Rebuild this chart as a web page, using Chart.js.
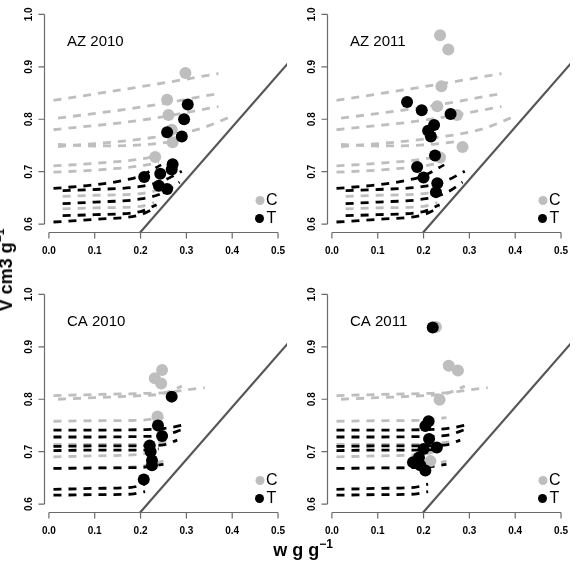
<!DOCTYPE html>
<html>
<head>
<meta charset="utf-8">
<script src="https://cdn.jsdelivr.net/npm/chart.js@4.4.0/dist/chart.umd.min.js"></script>
<style>
  body { margin: 0; background: #fff; width: 576px; height: 577px; position: relative; overflow: hidden;
         font-family: "Liberation Sans", Arial, sans-serif; }
  canvas { position: absolute; }
  .ttl { position: absolute; font-weight: bold; font-size: 18px; line-height: 20px; color: #000; white-space: nowrap; }
  .ttl .sup { position: relative; top: -8px; font-size: 12px; }
</style>
</head>
<body>
<canvas id="p1" width="293" height="262" style="left:0;top:0"></canvas>
<canvas id="p2" width="293" height="262" style="left:283px;top:0"></canvas>
<canvas id="p3" width="293" height="262" style="left:0;top:280px"></canvas>
<canvas id="p4" width="293" height="262" style="left:283px;top:280px"></canvas>
<div class="ttl" style="left:7px;top:270px;transform:translate(-50%,-50%) rotate(-90deg)">V cm3 g<span class="sup">&minus;1</span></div>
<div class="ttl" style="left:303px;top:540px;transform:translateX(-50%)">w g g<span class="sup">&minus;1</span></div>
<script>
const panelNames = ['AZ 2010', 'AZ 2011', 'CA 2010', 'CA 2011'];
const xTicks = [0, 0.1, 0.2, 0.3, 0.4, 0.5];
const xTickLabels = ['0.0', '0.1', '0.2', '0.3', '0.4', '0.5'];
const yTicks = [0.6, 0.7, 0.8, 0.9, 1.0];
const yTickLabels = ['0.6', '0.7', '0.8', '0.9', '1.0'];

// 1:1 reference line (w vs V)
const oneToOneX = [0.18, 0.56];
const oneToOneY = [0.565, 0.945];

// dashed model curves [w, V]
const azCurvesC = [
  [[0.01, 0.836], [0.2, 0.862], [0.37, 0.887]],
  [[0.02, 0.802], [0.2, 0.823], [0.37, 0.849]],
  [[0.01, 0.780], [0.2, 0.798], [0.37, 0.824]],
  [[0.02, 0.748], [0.2, 0.762], [0.33, 0.782], [0.40, 0.806]],
  [[0.02, 0.752], [0.1, 0.749], [0.2, 0.751], [0.27, 0.757]],
  [[0.01, 0.711], [0.1, 0.716], [0.2, 0.724], [0.24, 0.731]],
  [[0.01, 0.699], [0.1, 0.703], [0.2, 0.711], [0.24, 0.717]],
  [[0.03, 0.653], [0.1, 0.655], [0.2, 0.658], [0.24, 0.665]],
  [[0.03, 0.629], [0.1, 0.631], [0.2, 0.634], [0.23, 0.641]]
];
const azCurvesT = [
  [[0.01, 0.668], [0.1, 0.675], [0.16, 0.683], [0.2, 0.692], [0.245, 0.713]],
  [[0.03, 0.664], [0.1, 0.666], [0.2, 0.672], [0.25, 0.683], [0.29, 0.701]],
  [[0.03, 0.639], [0.1, 0.642], [0.2, 0.648], [0.25, 0.660], [0.285, 0.680]],
  [[0.03, 0.616], [0.1, 0.618], [0.2, 0.624], [0.235, 0.637]],
  [[0.01, 0.604], [0.1, 0.609], [0.2, 0.618], [0.235, 0.632]]
];
const caCurvesC = [
  [[0.01, 0.807], [0.1, 0.809], [0.2, 0.811], [0.26, 0.813], [0.3, 0.818], [0.34, 0.822]],
  [[0.02, 0.800], [0.1, 0.803], [0.2, 0.807], [0.25, 0.811], [0.29, 0.825]],
  [[0.01, 0.758], [0.1, 0.759], [0.2, 0.760], [0.25, 0.765]],
  [[0.01, 0.714], [0.1, 0.714], [0.2, 0.714], [0.27, 0.720]],
  [[0.01, 0.690], [0.1, 0.692], [0.2, 0.695], [0.24, 0.705]],
  [[0.01, 0.668], [0.1, 0.669], [0.2, 0.672], [0.25, 0.682]]
];
const caCurvesT = [
  [[0.01, 0.741], [0.1, 0.741], [0.2, 0.742], [0.25, 0.744], [0.3, 0.752]],
  [[0.01, 0.728], [0.1, 0.728], [0.2, 0.729], [0.25, 0.731], [0.29, 0.742]],
  [[0.01, 0.710], [0.1, 0.711], [0.2, 0.711], [0.25, 0.713], [0.28, 0.722]],
  [[0.01, 0.702], [0.1, 0.703], [0.2, 0.703], [0.24, 0.706]],
  [[0.01, 0.668], [0.1, 0.669], [0.2, 0.670], [0.25, 0.676]],
  [[0.01, 0.628], [0.1, 0.630], [0.18, 0.632], [0.21, 0.638]],
  [[0.01, 0.617], [0.1, 0.618], [0.18, 0.619], [0.21, 0.624]]
];

// observed samples [w, V]
const az2010C = [[0.298, 0.888], [0.258, 0.837], [0.261, 0.808], [0.268, 0.780], [0.270, 0.756], [0.232, 0.728]];
const az2010T = [[0.303, 0.828], [0.295, 0.800], [0.258, 0.775], [0.290, 0.767], [0.270, 0.714], [0.268, 0.704],
                 [0.243, 0.696], [0.208, 0.690], [0.240, 0.673], [0.258, 0.667]];
const az2011C = [[0.236, 0.960], [0.254, 0.933], [0.239, 0.863], [0.230, 0.825], [0.273, 0.808], [0.285, 0.747], [0.236, 0.727]];
const az2011T = [[0.164, 0.833], [0.196, 0.817], [0.259, 0.810], [0.223, 0.789], [0.210, 0.778], [0.216, 0.767],
                 [0.225, 0.731], [0.186, 0.709], [0.200, 0.689], [0.230, 0.678], [0.227, 0.661]];
const ca2010C = [[0.247, 0.856], [0.231, 0.840], [0.245, 0.830], [0.237, 0.767]];
const ca2010T = [[0.268, 0.805], [0.238, 0.750], [0.247, 0.730], [0.220, 0.712], [0.222, 0.700], [0.225, 0.683],
                 [0.225, 0.674], [0.207, 0.647]];
const ca2011C = [[0.227, 0.938], [0.255, 0.864], [0.275, 0.855], [0.235, 0.799], [0.215, 0.682]];
const ca2011T = [[0.220, 0.937], [0.211, 0.758], [0.204, 0.749], [0.212, 0.724], [0.229, 0.708], [0.200, 0.705],
                 [0.190, 0.689], [0.177, 0.680], [0.193, 0.674], [0.204, 0.664]];

const GREY = '#bebebe';
const AXIS = '#6a6a6a';
const FONT = '"Liberation Sans", Arial, sans-serif';

const toXY = arr => arr.map(p => ({ x: p[0], y: p[1] }));

// R-style detached axes, panel label and legend
const rAxes = {
  id: 'rAxes',
  afterDraw(chart, args, opts) {
    const { ctx, chartArea: a, scales: { x, y } } = chart;
    ctx.save();
    ctx.strokeStyle = AXIS;
    ctx.lineWidth = 1.2;
    ctx.beginPath();
    ctx.moveTo(x.getPixelForValue(xTicks[0]), a.bottom);
    ctx.lineTo(x.getPixelForValue(xTicks[xTicks.length - 1]), a.bottom);
    xTicks.forEach(v => {
      const px = x.getPixelForValue(v);
      ctx.moveTo(px, a.bottom);
      ctx.lineTo(px, a.bottom + 6);
    });
    ctx.moveTo(a.left, y.getPixelForValue(yTicks[0]));
    ctx.lineTo(a.left, y.getPixelForValue(yTicks[yTicks.length - 1]));
    yTicks.forEach(v => {
      const py = y.getPixelForValue(v);
      ctx.moveTo(a.left, py);
      ctx.lineTo(a.left - 6, py);
    });
    ctx.stroke();

    ctx.fillStyle = '#000';
    ctx.font = 'bold 10px ' + FONT;
    ctx.textAlign = 'center';
    ctx.textBaseline = 'middle';
    xTicks.forEach((v, i) => ctx.fillText(xTickLabels[i], x.getPixelForValue(v), a.bottom + 19));
    yTicks.forEach((v, i) => {
      ctx.save();
      ctx.translate(a.left - 15.5, y.getPixelForValue(v));
      ctx.rotate(-Math.PI / 2);
      ctx.fillText(yTickLabels[i], 0, 0);
      ctx.restore();
    });

    ctx.font = '15px ' + FONT;
    ctx.textAlign = 'left';
    ctx.fillText(opts.title, a.left + 22.5, a.top + 35.5);

    // legend
    ctx.font = '16px ' + FONT;
    ctx.fillStyle = GREY;
    ctx.beginPath(); ctx.arc(a.left + 215.5, a.top + 194.5, 4.5, 0, Math.PI * 2); ctx.fill();
    ctx.fillStyle = '#000';
    ctx.beginPath(); ctx.arc(a.left + 215, a.top + 212.5, 4.5, 0, Math.PI * 2); ctx.fill();
    ctx.fillText('C', a.left + 221.5, a.top + 195);
    ctx.fillText('T', a.left + 222, a.top + 213);
    ctx.restore();
  }
};

function makePanel(id, title, curvesC, curvesT, ptsC, ptsT) {
  const datasets = [];
  datasets.push({ data: toXY(ptsT), backgroundColor: '#000', borderWidth: 0, pointRadius: 6 });
  datasets.push({ data: toXY(ptsC), backgroundColor: GREY, borderWidth: 0, pointRadius: 6 });
  curvesT.forEach(c => datasets.push({
    data: toXY(c), showLine: true, borderColor: '#000', borderWidth: 2.8, borderDash: [8, 7],
    pointRadius: 0, cubicInterpolationMode: 'monotone'
  }));
  curvesC.forEach(c => datasets.push({
    data: toXY(c), showLine: true, borderColor: GREY, borderWidth: 2.8, borderDash: [8, 7],
    pointRadius: 0, cubicInterpolationMode: 'monotone'
  }));
  datasets.push({
    data: oneToOneX.map((v, i) => ({ x: v, y: oneToOneY[i] })), showLine: true,
    borderColor: '#555', borderWidth: 2.2, pointRadius: 0
  });

  new Chart(document.getElementById(id).getContext('2d'), {
    type: 'scatter',
    data: { datasets: datasets },
    options: {
      responsive: false,
      animation: false,
      devicePixelRatio: 1,
      layout: { padding: { left: 44.5, right: 2, top: 2.5, bottom: 29.5 } },
      scales: {
        x: { type: 'linear', display: false, min: -0.0096, max: 0.5196 },
        y: { type: 'linear', display: false, min: 0.584, max: 1.016 }
      },
      plugins: {
        legend: { display: false },
        tooltip: { enabled: false },
        rAxes: { title: title }
      }
    },
    plugins: [rAxes]
  });
}

makePanel('p1', panelNames[0], azCurvesC, azCurvesT, az2010C, az2010T);
makePanel('p2', panelNames[1], azCurvesC, azCurvesT, az2011C, az2011T);
makePanel('p3', panelNames[2], caCurvesC, caCurvesT, ca2010C, ca2010T);
makePanel('p4', panelNames[3], caCurvesC, caCurvesT, ca2011C, ca2011T);
</script>
</body>
</html>
